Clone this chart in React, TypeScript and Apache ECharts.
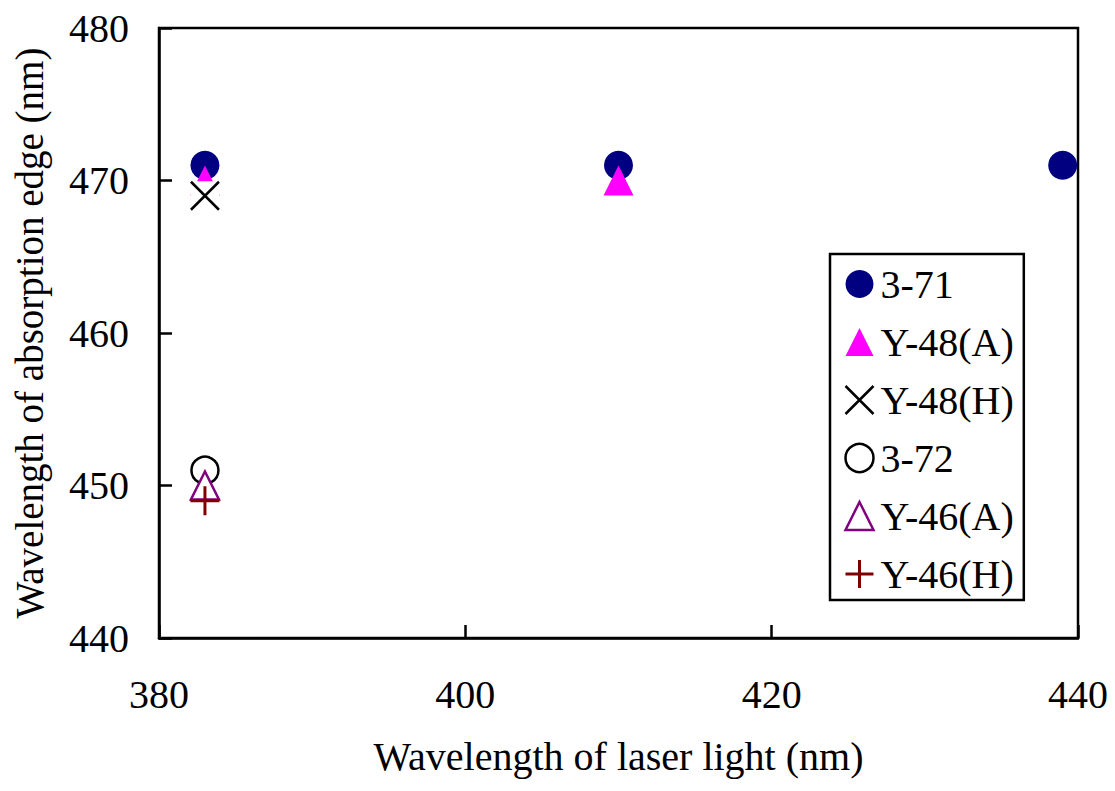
import React, { useEffect, useRef } from "react";
import * as echarts from "echarts";

const xTickMin = 380;
const xTickMax = 440;
const xTickStep = 20;
const yTickMin = 440;
const yTickMax = 480;
const yTickStep = 10;

const names = ["3-71", "Y-48(A)", "Y-48(H)", "3-72", "Y-46(A)", "Y-46(H)"];
const s371: number[][] = [[383, 471], [410, 471], [439, 471]];
const sY48A: number[][] = [[383, 470], [410, 470]];
const sY48H: number[][] = [[383, 469]];
const s372: number[][] = [[383, 451]];
const sY46A: number[][] = [[383, 450]];
const sY46H: number[][] = [[383, 449]];

const FONT = "Liberation Serif";
const X_PATH = "path://M0,0L10,10M10,0L0,10";
const PLUS_PATH = "path://M5,0L5,10M0,5L10,5";

export default function App() {
  const ref = useRef<HTMLDivElement>(null);
  useEffect(() => {
    if (!ref.current) return;
    const chart = echarts.init(ref.current, undefined, { renderer: "svg" });
    const axisLine = { show: true, onZero: false, lineStyle: { color: "#000", width: 2.5 } };
    const labelStyle = { fontFamily: FONT, fontSize: 40, color: "#000" };
    chart.setOption({
      animation: false,
      backgroundColor: "#fff",
      textStyle: { fontFamily: FONT },
      grid: {
        left: 159,
        top: 28,
        right: 37,
        bottom: 153,
        show: true,
        borderColor: "#000",
        borderWidth: 2.5,
        backgroundColor: "transparent",
      },
      xAxis: {
        type: "value",
        min: xTickMin,
        max: xTickMax,
        interval: xTickStep,
        name: "Wavelength of laser light (nm)",
        nameLocation: "middle",
        nameGap: 98,
        nameTextStyle: { fontFamily: FONT, fontSize: 40, color: "#000" },
        axisLine,
        axisTick: { show: true, inside: true, length: 13, lineStyle: { color: "#000", width: 2.5 } },
        axisLabel: { ...labelStyle, margin: 36 },
        splitLine: { show: false },
      },
      yAxis: {
        type: "value",
        min: yTickMin,
        max: yTickMax,
        interval: yTickStep,
        name: "Wavelength of absorption edge (nm)",
        nameLocation: "middle",
        nameGap: 110,
        nameRotate: 90,
        nameTextStyle: { fontFamily: FONT, fontSize: 39, color: "#000" },
        axisLine,
        axisTick: { show: true, inside: true, length: 13, lineStyle: { color: "#000", width: 2.5 } },
        axisLabel: { ...labelStyle, margin: 30 },
        splitLine: { show: false },
      },
      legend: {
        orient: "vertical",
        left: 830,
        top: 254,
        padding: [10, 10, 6, 13],
        borderColor: "#000",
        borderWidth: 2.5,
        backgroundColor: "#fff",
        itemWidth: 28,
        itemHeight: 28,
        itemGap: 18,
        textStyle: { fontFamily: FONT, fontSize: 40, color: "#000", lineHeight: 40, padding: [0, 0, 0, 2] },
        data: [
          { name: names[0] },
          { name: names[1] },
          { name: names[2], itemStyle: { borderWidth: 2.5 } },
          { name: names[3], itemStyle: { borderWidth: 2.5 } },
          { name: names[4], itemStyle: { borderWidth: 2.5 } },
          { name: names[5], itemStyle: { borderWidth: 3 } },
        ],
      },
      series: [
        {
          name: names[0],
          type: "scatter",
          data: s371,
          symbol: "circle",
          symbolSize: 29,
          itemStyle: { color: "#000080", opacity: 1 },
        },
        {
          name: names[1],
          type: "scatter",
          data: sY48A,
          symbol: "triangle",
          symbolSize: 30,
          itemStyle: { color: "#FF00FF", opacity: 1 },
        },
        {
          name: "Y-48(H) backing",
          type: "scatter",
          data: sY48H,
          symbol: "rect",
          symbolSize: 29,
          itemStyle: { color: "#fff", opacity: 1 },
          silent: true,
        },
        {
          name: names[2],
          type: "scatter",
          data: sY48H,
          symbol: X_PATH,
          symbolSize: 28,
          itemStyle: { color: "none", borderColor: "#000", borderWidth: 2.5, opacity: 1 },
        },
        {
          name: names[3],
          type: "scatter",
          data: s372,
          symbol: "circle",
          symbolSize: 27,
          itemStyle: { color: "#fff", borderColor: "#000", borderWidth: 2.5, opacity: 1 },
        },
        {
          name: names[4],
          type: "scatter",
          data: sY46A,
          symbol: "triangle",
          symbolSize: 28,
          itemStyle: { color: "#fff", borderColor: "#800080", borderWidth: 2.5, opacity: 1 },
        },
        {
          name: names[5],
          type: "scatter",
          data: sY46H,
          symbol: PLUS_PATH,
          symbolSize: 29,
          itemStyle: { color: "none", borderColor: "#800000", borderWidth: 3, opacity: 1 },
        },
      ],
    });
    return () => chart.dispose();
  }, []);
  return <div ref={ref} style={{ width: 1115, height: 791, position: "absolute", left: 0, top: 0 }} />;
}
